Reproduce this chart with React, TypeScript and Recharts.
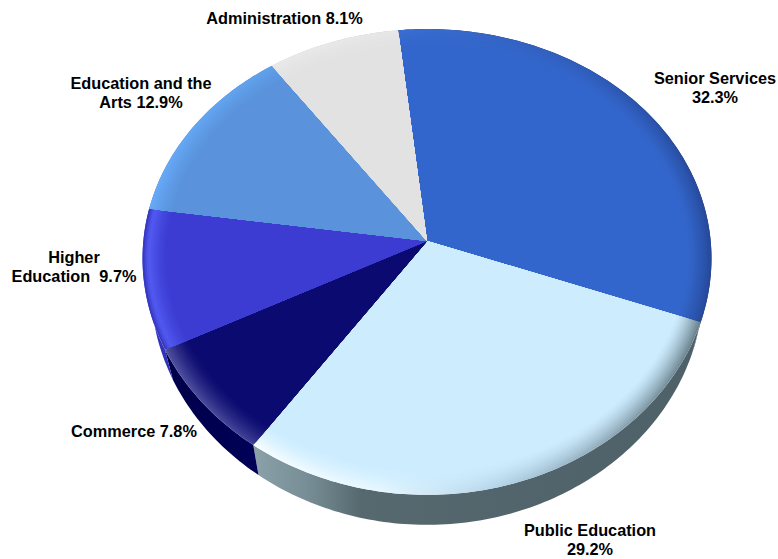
import React from 'react';
import { PieChart, Pie } from 'recharts';

const categories = ['Senior Services', 'Public Education', 'Commerce', 'Higher Education', 'Education and the Arts', 'Administration'];
const shares = [32.3, 29.2, 7.8, 9.7, 12.9, 8.1];
const topColors = ['#3366cc', '#cdedff', '#0a0a70', '#3c3cd2', '#5a93dc', '#e2e2e2'];

// horizontal lighting along the bevelled rim of each slice: [offset, colour]
const rimLight: [number, string][][] = [
  [[0, '#3a6ed2'], [0.6, '#2f5cb8'], [1, '#26499a']],
  [[0, '#f6fcff'], [0.28, '#e6f7ff'], [0.55, '#b4d4e8'], [0.8, '#8fa9b8'], [1, '#6b838e']],
  [[0, '#50509f'], [0.6, '#2f2f8c'], [1, '#10107a']],
  [[0, '#5a66ff'], [0.5, '#5058f0'], [1, '#3c3cd2']],
  [[0, '#66aaf8'], [0.5, '#5f9fea'], [1, '#5a93dc']],
  [[0, '#e9e9e9'], [1, '#e6e6e6']],
];
// darker line right on the outer edge, only where a slice has one
const rimEdge = [null, null, null, '#3838c4', null, null];
const wallLight: [number, string][][] = [
  [[0, '#14245a'], [1, '#14245a']],
  [[0, '#8ba1a9'], [0.12, '#788e96'], [0.24, '#56696f'], [1, '#4e6068']],
  [[0, '#00004a'], [1, '#000058']],
  [[0, '#3636c6'], [1, '#3030b4']],
  [[0, '#4a7cc0'], [1, '#4a7cc0']],
  [[0, '#c4c4c4'], [1, '#c4c4c4']],
];

const labelLines = [
  ['Senior Services', '32.3%'],
  ['Public Education', '29.2%'],
  ['Commerce 7.8%'],
  ['Higher', 'Education\u00a0 9.7%'],
  ['Education and the', 'Arts 12.9%'],
  ['Administration 8.1%'],
];
const labelCenters = [
  { x: 715, y: 84 },
  { x: 590, y: 536 },
  { x: 134, y: 437 },
  { x: 74, y: 263 },
  { x: 141, y: 89 },
  { x: 284.5, y: 23.5 },
];

const rows = categories.map((name, i) => ({ name, value: shares[i], fill: topColors[i] }));

// the disc is tilted away from the viewer, so it goes through a perspective map
const TILT_V = -0.09;
const WIDTH_RATIO = 1.228;
const NARROW_LOW = 0.015;
const WALL_DEPTH = 30;
const WALL_SHRINK = 0.97;
const BEVEL_RINGS = 12;
const BEVEL_WIDTH = 0.085;
const EDGE_BAND = 0.22;

const project = (cx: number, cy: number, r: number, deg: number, frac: number) => {
  const a = (deg * Math.PI) / 180;
  const u = frac * Math.cos(a);
  const v = -frac * Math.sin(a);
  const d = 1 + TILT_V * v;
  return { x: cx + (r * WIDTH_RATIO * u * (1 - (NARROW_LOW * v) / d)) / d, y: cy + (r * v) / d };
};

const rimPoints = (p: any, frac: number) => {
  const steps = Math.max(8, Math.ceil(Math.abs(p.endAngle - p.startAngle)));
  const pts = [];
  for (let i = 0; i <= steps; i++) {
    const deg = p.startAngle + ((p.endAngle - p.startAngle) * i) / steps;
    pts.push(project(p.cx, p.cy, p.outerRadius, deg, frac));
  }
  return pts;
};

const toPath = (pts: { x: number; y: number }[]) =>
  'M' + pts.map((q) => `${q.x.toFixed(2)},${q.y.toFixed(2)}`).join('L') + 'Z';

const mixHex = (a: string, b: string, t: number) => {
  const ch = (h: string, i: number) => parseInt(h.slice(1 + i * 2, 3 + i * 2), 16);
  const out = [0, 1, 2].map((i) => Math.round(ch(a, i) + (ch(b, i) - ch(a, i)) * t).toString(16).padStart(2, '0'));
  return '#' + out.join('');
};

const SideWall = (p: any) => {
  const i = categories.indexOf(p.name);
  const rim = rimPoints(p, 1);
  // the underside reads slightly narrower than the top face
  const lower = rim.map((q) => ({ x: p.cx + (q.x - p.cx) * WALL_SHRINK, y: q.y + WALL_DEPTH })).reverse();
  return (
    <g>
      <defs>
        <linearGradient id={`wall-${i}`} x1="0" y1="0" x2="1" y2="0">
          {wallLight[i].map(([o, c]) => (
            <stop key={o} offset={o} stopColor={c} />
          ))}
        </linearGradient>
      </defs>
      <path d={toPath([...rim, ...lower])} fill={`url(#wall-${i})`} />
    </g>
  );
};

// painted from the rim inwards so the bevel fades into the flat top colour
const SliceTop = (p: any) => {
  const i = categories.indexOf(p.name);
  const base = topColors[i];
  const edge = rimEdge[i];
  const rings = [];
  for (let j = 0; j <= BEVEL_RINGS; j++) {
    const t = j / BEVEL_RINGS;
    const frac = 1 - BEVEL_WIDTH * t;
    const amount = Math.pow(1 - t, 1.4);
    const ringColor = (c: string) => {
      const lit = mixHex(base, c, amount);
      return edge && t < EDGE_BAND ? mixHex(edge, lit, t / EDGE_BAND) : lit;
    };
    rings.push(
      <g key={j}>
        <linearGradient id={`rim-${i}-${j}`} x1="0" y1="0" x2="1" y2="0">
          {rimLight[i].map(([o, c]) => (
            <stop key={o} offset={o} stopColor={ringColor(c)} />
          ))}
        </linearGradient>
        <path
          d={toPath([{ x: p.cx, y: p.cy }, ...rimPoints(p, frac)])}
          fill={j === BEVEL_RINGS ? base : `url(#rim-${i}-${j})`}
        />
      </g>
    );
  }
  return <g>{rings}</g>;
};

const SliceLabel = (p: any) => {
  const i = p.index;
  const { x, y } = labelCenters[i];
  return (
    <text
      x={x}
      y={y}
      textAnchor="middle"
      fontFamily="'Liberation Sans', Arial, sans-serif"
      fontWeight="bold"
      fontSize={16.3}
      fill="#000"
    >
      {labelLines[i].map((line, n) => (
        <tspan key={n} x={x} dy={n === 0 ? 0 : 19}>
          {line}
        </tspan>
      ))}
    </text>
  );
};

const START = 96.3;

export default function App() {
  return (
    <div style={{ position: 'absolute', left: 0, top: 0, width: 778, height: 559, background: '#fff' }}>
      <PieChart width={778} height={559} margin={{ top: 0, right: 0, bottom: 0, left: 0 }}>
        <Pie
          data={rows}
          dataKey="value"
          nameKey="name"
          cx={427}
          cy={241}
          outerRadius={231}
          startAngle={START}
          endAngle={START - 360}
          stroke="none"
          shape={SideWall}
          isAnimationActive={false}
        />
        <Pie
          data={rows}
          dataKey="value"
          nameKey="name"
          cx={427}
          cy={241}
          outerRadius={231}
          startAngle={START}
          endAngle={START - 360}
          stroke="none"
          shape={SliceTop}
          label={SliceLabel}
          labelLine={false}
          isAnimationActive={false}
        />
      </PieChart>
    </div>
  );
}
